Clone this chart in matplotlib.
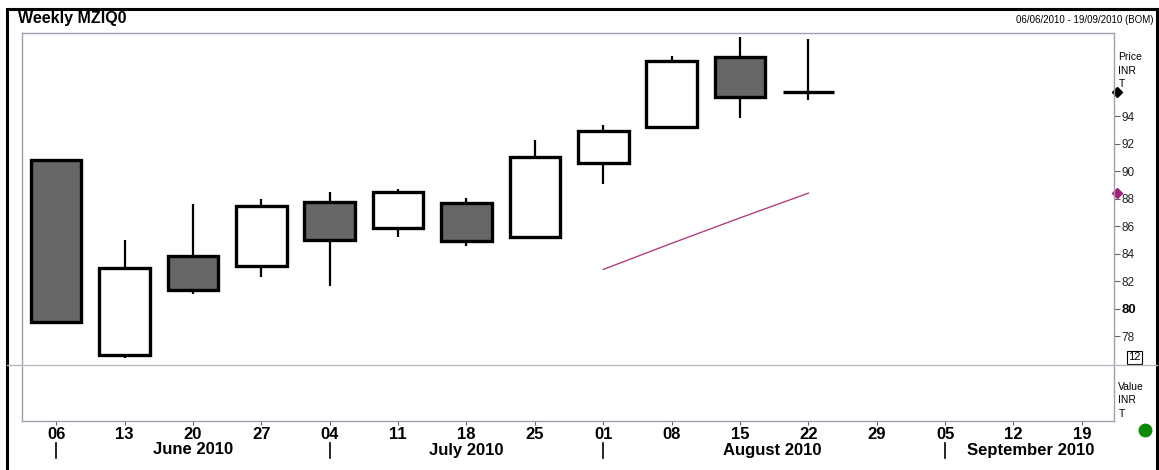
import matplotlib.pyplot as plt
from matplotlib.patches import Rectangle
from matplotlib.transforms import blended_transform_factory

plt.rcParams['font.family'] = ['Liberation Sans', 'DejaVu Sans']

# weekly candles (week starting)
week_days = ['06', '13', '20', '27', '04', '11', '18', '25', '01', '08', '15', '22', '29', '05', '12', '19']
opens = [90.8, 76.6, 83.8, 83.1, 87.75, 85.9, 87.7, 85.2, 90.6, 93.2, 98.3, 95.75]
highs = [90.9, 85.0, 87.6, 88.0, 88.45, 88.7, 88.05, 92.25, 93.35, 98.4, 99.75, 99.6]
lows = [79.0, 76.4, 81.1, 82.3, 81.65, 85.2, 84.55, 85.2, 89.05, 93.2, 93.9, 95.15]
closes = [79.0, 82.95, 81.35, 87.45, 85.0, 88.45, 84.9, 91.0, 92.9, 98.0, 95.4, 95.75]

# moving average line (weeks 01 Aug - 22 Aug)
ma_weeks = [8, 9, 10, 11]
ma_values = [82.85, 84.75, 86.6, 88.4]

price_ticks = [78, 80, 82, 84, 86, 88, 90, 92, 94]
months = ['June 2010', 'July 2010', 'August 2010', 'September 2010']
month_first_week = [0, 4, 8, 13]
month_label_x = [2.0, 6.0, 10.47, 14.25]

W, H = 1159, 470


def box(x0, y0, x1, y1):
    return [x0 / W, 1 - y1 / H, (x1 - x0) / W, (y1 - y0) / H]


fig = plt.figure(figsize=(W / 100, H / 100), dpi=100)

# outer black frame
fig.patches.append(Rectangle((7 / W, -0.01), 1150 / W, 1 - 9 / H + 0.01, transform=fig.transFigure,
                             fill=False, edgecolor='black', linewidth=2.2))

ax = fig.add_axes(box(22, 33, 1114, 365))
ax2 = fig.add_axes(box(22, 365, 1114, 421), sharex=ax)

grey = '#a09fb0'
for a in (ax, ax2):
    for s in a.spines.values():
        s.set_color(grey)
        s.set_linewidth(1.0)
    a.set_facecolor('white')
ax.spines['bottom'].set_visible(False)
ax2.spines['top'].set_visible(False)

# full width separator
fig.add_artist(plt.Line2D([7 / W, 1157 / W], [1 - 365 / H, 1 - 365 / H], color='#b8b8c4', lw=1.0,
                          transform=fig.transFigure))

bw = 0.74
for i in range(len(opens)):
    o, h, l, c = opens[i], highs[i], lows[i], closes[i]
    top, bot = max(o, c), min(o, c)
    ax.plot([i, i], [top, h], color='black', lw=1.6, solid_capstyle='butt', zorder=2)
    ax.plot([i, i], [l, bot], color='black', lw=1.6, solid_capstyle='butt', zorder=2)
    if abs(c - o) < 0.05:
        ax.plot([i - bw / 2, i + bw / 2], [o, o], color='black', lw=2.4, solid_capstyle='butt', zorder=3)
    else:
        fc = '#666666' if c < o else 'white'
        ax.add_patch(Rectangle((i - bw / 2, bot), bw, top - bot, facecolor=fc, edgecolor='black',
                               lw=2.4, zorder=3))

ax.plot(ma_weeks, ma_values, color='#b0407f', lw=1.0, zorder=2)

ax.set_xlim(-0.5, 15.47)
ax.set_ylim(75.9, 100.05)
ax2.set_ylim(0, 1)

ax.yaxis.tick_right()
ax.set_yticks(price_ticks)
ax.set_yticklabels([str(t) for t in price_ticks], fontsize=8.5, color='#222222')
for lbl in ax.get_yticklabels():
    if lbl.get_text() == '80':
        lbl.set_fontweight('bold')
        lbl.set_fontsize(9.5)
        lbl.set_color('black')
ax.tick_params(axis='y', direction='out', length=4, width=0.8, color='#666666', pad=1.5)
ax.tick_params(axis='x', bottom=False, labelbottom=False)

# last-price markers on the right axis
ax.plot([15.52], [closes[-1]], marker='D', color='black', markersize=5, clip_on=False)
ax.plot([15.52], [ma_values[-1]], marker='D', color='#a0207a', markersize=5, clip_on=False)

ax.text(1.004, 0.886, 'Price\nINR\nT', transform=ax.transAxes, fontsize=7.5, va='center', ha='left',
        linespacing=1.45)
ax.text(1.013, 0.008, '12', transform=ax.transAxes, fontsize=8, va='bottom', ha='left',
        bbox=dict(boxstyle='square,pad=0.12', facecolor='white', edgecolor='black', lw=0.8))

ax2.set_yticks([])
ax2.set_xticks(range(len(week_days)))
ax2.set_xticklabels(week_days, fontsize=12, fontweight='bold')
ax2.tick_params(axis='x', direction='out', length=3, width=0.8, color='#666666', pad=1)
ax2.text(1.004, 0.37, 'Value\nINR\nT', transform=ax2.transAxes, fontsize=7.5, va='center', ha='left',
         linespacing=1.45)

# month labels and separators
tr = blended_transform_factory(ax2.transData, fig.transFigure)
for m, wk, mx in zip(months, month_first_week, month_label_x):
    ax2.plot([wk, wk], [1 - 443 / H, 1 - 458 / H], color='black', lw=1.2, transform=tr, clip_on=False)
    ax2.text(mx, 1 - 450 / H, m, transform=tr, fontsize=12, fontweight='bold', ha='center', va='center')

fig.add_artist(plt.Line2D([1145 / W], [1 - 430 / H], marker='o', markersize=9, color='#0a8a0a',
                          transform=fig.transFigure))

fig.text(18 / W, 1 - 18 / H, 'Weekly MZIQ0', fontsize=11.5, fontweight='bold', ha='left', va='center')
fig.text(1153 / W, 1 - 20 / H, '06/06/2010 - 19/09/2010 (BOM)', fontsize=7, ha='right', va='center')

fig.savefig('out.png', dpi=100, facecolor='white')
